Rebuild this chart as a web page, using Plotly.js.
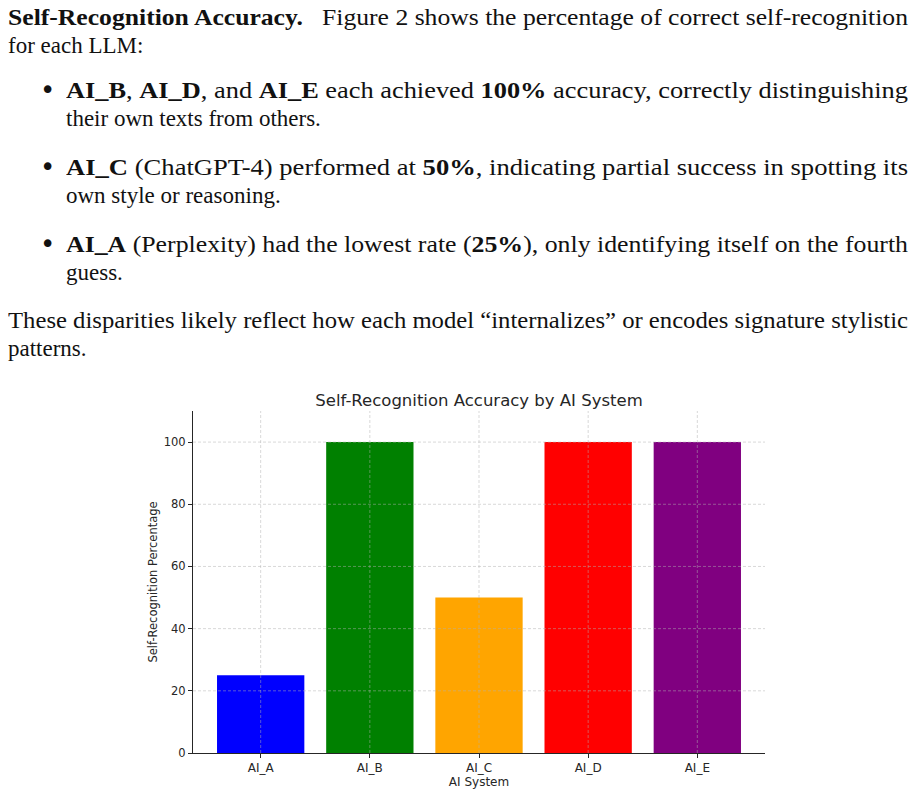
<!DOCTYPE html>
<html>
<head>
<meta charset="utf-8">
<script src="https://cdn.plot.ly/plotly-3.0.1.min.js"></script>
<style>
  html, body { margin: 0; padding: 0; background: #fff; }
  body { width: 915px; height: 792px; position: relative; overflow: hidden; }
  .ln { position: absolute; font-family: "Liberation Serif", "DejaVu Serif", serif; font-size: 23px; line-height: 28px; color: #111; white-space: nowrap; }
  .ln span.t { display: inline-block; transform-origin: 0 0; }
  .bul { position: absolute; font-family: "DejaVu Sans", sans-serif; font-size: 26px; line-height: 28px; color: #111; }
  #chart { position: absolute; left: 0; top: 380px; width: 915px; height: 412px; }
</style>
</head>
<body>
<div class="ln" data-fit="900" style="left:8px; top:4px;"><span class="t"><b>Self-Recognition Accuracy.</b>&nbsp;&nbsp;&nbsp;Figure 2 shows the percentage of correct self-recognition</span></div>
<div class="ln" style="left:8px; top:32px;"><span class="t">for each LLM:</span></div>

<div class="bul" style="left:40px; top:76px;">•</div>
<div class="ln" data-fit="842" style="left:66px; top:77px;"><span class="t"><b>AI_B</b>, <b>AI_D</b>, and <b>AI_E</b> each achieved <b>100%</b> accuracy, correctly distinguishing</span></div>
<div class="ln" style="left:66px; top:105px;"><span class="t">their own texts from others.</span></div>

<div class="bul" style="left:40px; top:153px;">•</div>
<div class="ln" data-fit="842" style="left:66px; top:154px;"><span class="t"><b>AI_C</b> (ChatGPT-4) performed at <b>50%</b>, indicating partial success in spotting its</span></div>
<div class="ln" style="left:66px; top:182px;"><span class="t">own style or reasoning.</span></div>

<div class="bul" style="left:40px; top:230px;">•</div>
<div class="ln" data-fit="842" style="left:66px; top:231px;"><span class="t"><b>AI_A</b> (Perplexity) had the lowest rate (<b>25%</b>), only identifying itself on the fourth</span></div>
<div class="ln" style="left:66px; top:259px;"><span class="t">guess.</span></div>

<div class="ln" data-fit="900" style="left:8px; top:307px;"><span class="t">These disparities likely reflect how each model “internalizes” or encodes signature stylistic</span></div>
<div class="ln" style="left:8px; top:335px;"><span class="t">patterns.</span></div>

<div id="chart"></div>

<script>
// ---- data ----
const systems = ["AI_A", "AI_B", "AI_C", "AI_D", "AI_E"];
const accuracy = [25, 100, 50, 100, 100];
const barColors = ["blue", "green", "orange", "red", "purple"];
const yTickValues = [0, 20, 40, 60, 80, 100];
const chartTitle = "Self-Recognition Accuracy by AI System";
const xTitle = "AI System";
const yTitle = "Self-Recognition Percentage";

// fit full text lines to their justified width
document.querySelectorAll('.ln[data-fit]').forEach(function (d) {
  const target = parseFloat(d.getAttribute('data-fit'));
  const s = d.querySelector('span.t');
  const w = s.getBoundingClientRect().width;
  if (w > 0) s.style.transform = 'scaleX(' + (target / w) + ')';
});

const gridStyle = { color: "rgba(175,175,175,0.55)", width: 0.9, dash: "3px,2px" };
const shapes = [];
yTickValues.filter(v => v > 0).forEach(v => {
  shapes.push({ type: "line", xref: "paper", yref: "y", x0: 0, x1: 1, y0: v, y1: v, line: gridStyle, layer: "above" });
});
systems.forEach(s => {
  shapes.push({ type: "line", xref: "x", yref: "paper", x0: s, x1: s, y0: 0, y1: 1, line: gridStyle, layer: "above" });
});

const trace = {
  type: "bar",
  x: systems,
  y: accuracy,
  marker: { color: barColors, line: { width: 0 } },
  hoverinfo: "skip"
};

const font = "DejaVu Sans, Liberation Sans, sans-serif";
const layout = {
  width: 915, height: 412,
  margin: { l: 193, r: 150, t: 31, b: 39, pad: 0 },
  paper_bgcolor: "#fff", plot_bgcolor: "#fff",
  showlegend: false,
  bargap: 0.2,
  font: { family: font, color: "#262626", size: 11 },
  title: { text: chartTitle, font: { family: font, size: 16.5, color: "#262626" }, x: 0.5, xref: "paper", xanchor: "center", y: 0.952, yref: "container", yanchor: "middle" },
  xaxis: {
    type: "category", range: [-0.62, 4.62],
    showgrid: false, zeroline: false,
    showline: true, linecolor: "#262626", linewidth: 1,
    ticks: "outside", ticklen: 4, tickwidth: 1, tickcolor: "#262626",
    tickfont: { family: font, size: 12, color: "#262626" },
    title: { text: xTitle, font: { family: font, size: 12, color: "#262626" }, standoff: 1 }
  },
  yaxis: {
    range: [0, 110], tickvals: yTickValues,
    showgrid: false, zeroline: false,
    showline: true, linecolor: "#262626", linewidth: 1,
    ticks: "outside", ticklen: 4, tickwidth: 1, tickcolor: "#262626",
    tickfont: { family: font, size: 11.5, color: "#262626" },
    title: { text: yTitle, font: { family: font, size: 11.5, color: "#262626" }, standoff: 3 }
  },
  shapes: shapes
};

Plotly.newPlot("chart", [trace], layout, { displayModeBar: false, staticPlot: true });
</script>
</body>
</html>
